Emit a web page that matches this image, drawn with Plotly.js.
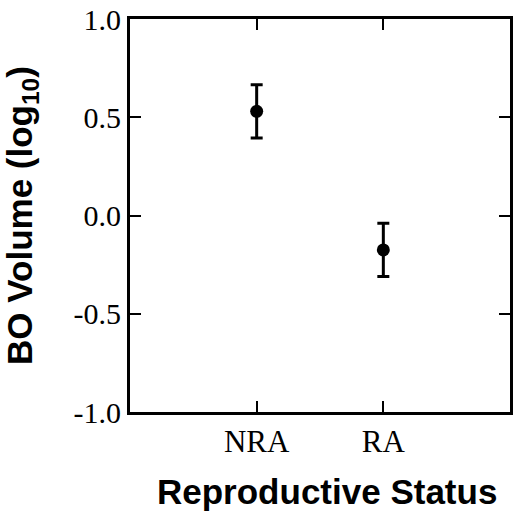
<!DOCTYPE html>
<html>
<head>
<meta charset="utf-8">
<script src="https://cdn.plot.ly/plotly-3.0.1.min.js"></script>
<style>html,body{margin:0;padding:0;background:#fff;}#chart{width:515px;height:512px;}</style>
</head>
<body>
<div id="chart"></div>
<script>
var categories = ["NRA", "RA"];
var meanValues = [0.53, -0.175];
var errorValues = [0.135, 0.135];
var yTickValues = [-1.0, -0.5, 0.0, 0.5, 1.0];
var yTickLabels = ["-1.0", "-0.5", "0.0", "0.5", "1.0"];
var xTitle = "Reproductive Status";

var trace = {
  type: "scatter",
  mode: "markers",
  x: categories,
  y: meanValues,
  marker: {color: "#000", size: 13},
  error_y: {type: "data", array: errorValues, visible: true, color: "#000", thickness: 3, width: 6},
  showlegend: false,
  hoverinfo: "none"
};

var layout = {
  width: 515, height: 512,
  margin: {l: 130, r: 5, t: 19, b: 100},
  paper_bgcolor: "#fff", plot_bgcolor: "#fff",
  xaxis: {
    type: "category",
    range: [-1, 2],
    showline: true, linecolor: "#000", linewidth: 3, mirror: "ticks",
    ticks: "inside", ticklen: 11, tickwidth: 2, tickcolor: "#000",
    showgrid: false, zeroline: false, automargin: false,
    tickfont: {family: "Liberation Serif, Times New Roman, serif", size: 31, color: "#000"}
  },
  yaxis: {
    range: [-1, 1],
    tickvals: yTickValues, ticktext: yTickLabels,
    showline: true, linecolor: "#000", linewidth: 3, mirror: "ticks",
    ticks: "inside", ticklen: 11, tickwidth: 2, tickcolor: "#000",
    showgrid: false, zeroline: false, automargin: false,
    tickfont: {family: "Liberation Serif, Times New Roman, serif", size: 30, color: "#000"},
    title: {text: "<b>BO Volume (log<sub>10</sub>)</b>", font: {family: "Liberation Sans, Arial, sans-serif", size: 35, color: "#000"}, standoff: 32}
  },
  annotations: [{
    text: "<b>" + xTitle + "</b>",
    xref: "paper", yref: "paper", x: 0.518, y: -0.202,
    xanchor: "center", yanchor: "middle", showarrow: false, borderpad: 0,
    font: {family: "Liberation Sans, Arial, sans-serif", size: 35, color: "#000"}
  }],
  font: {color: "#000"}
};

Plotly.newPlot("chart", [trace], layout, {displayModeBar: false, staticPlot: true});
</script>
</body>
</html>
